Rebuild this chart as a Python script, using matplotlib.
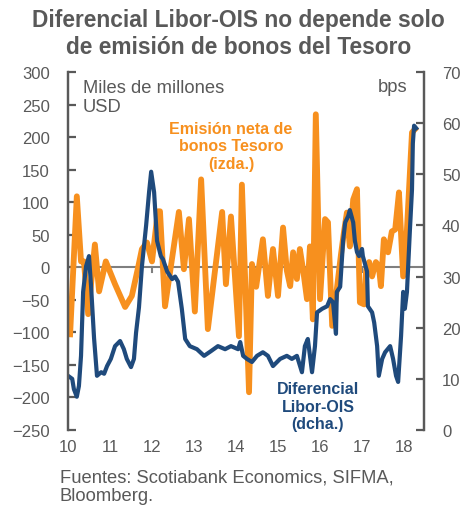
#!/usr/bin/env python3
"""Libor-OIS spread vs net Treasury issuance (Scotiabank style chart)."""

import matplotlib

matplotlib.use("Agg")
import matplotlib.pyplot as plt

# Net Treasury bond issuance, billions USD (left axis)
ISSUE_YEAR = [
    2010.05, 2010.21, 2010.31, 2010.38, 2010.48, 2010.64, 2010.74, 2010.90,
    2011.12, 2011.36, 2011.52, 2011.67, 2011.76, 2011.88, 2012.00, 2012.14,
    2012.19, 2012.31, 2012.64, 2012.76, 2012.88, 2013.02, 2013.17, 2013.33,
    2013.67, 2013.76, 2013.88, 2014.07, 2014.14, 2014.31, 2014.38, 2014.48,
    2014.64, 2014.76, 2014.83, 2014.88, 2015.00, 2015.12, 2015.21, 2015.29,
    2015.36, 2015.45, 2015.52, 2015.60, 2015.69, 2015.76, 2015.83, 2015.90,
    2016.00, 2016.12, 2016.19, 2016.29, 2016.40, 2016.50, 2016.57, 2016.64,
    2016.71, 2016.79, 2016.88, 2016.95, 2017.05, 2017.10, 2017.17, 2017.24,
    2017.33, 2017.40, 2017.45, 2017.52, 2017.62, 2017.71, 2017.79, 2017.88,
    2017.98, 2018.07, 2018.19, 2018.26,
]
ISSUE_VAL = [
    -103, 109, 9, 9, -72, 35, -37, 9,
    -26, -61, -44, 0, 28, 38, 9, 86,
    86, -60, 85, -3, 74, -68, 135, -95,
    85, -26, 78, -106, 127, -192, 5, -30,
    43, -44, 0, 28, -44, 61, -5, -29,
    23, -18, 28, -5, -49, 32, -80, 235,
    -49, 74, 69, -90, -34, 20, 54, 84,
    32, 104, 120, -54, -57, -3, 8, -14,
    8, 2, -29, 43, 23, 55, 58, 115,
    -14, 58, 207, 212,
]

# Libor-OIS spread, bps (right axis)
SPREAD_YEAR = [
    2010.00, 2010.10, 2010.14, 2010.21, 2010.26, 2010.31, 2010.36, 2010.43,
    2010.50, 2010.55, 2010.62, 2010.69, 2010.79, 2010.86, 2010.93, 2011.02,
    2011.12, 2011.24, 2011.33, 2011.40, 2011.50, 2011.57, 2011.62, 2011.69,
    2011.76, 2011.86, 2011.93, 2011.98, 2012.05, 2012.12, 2012.21, 2012.26,
    2012.36, 2012.48, 2012.55, 2012.62, 2012.71, 2012.79, 2012.90, 2013.07,
    2013.24, 2013.40, 2013.57, 2013.74, 2013.88, 2014.05, 2014.10, 2014.17,
    2014.26, 2014.38, 2014.50, 2014.64, 2014.76, 2014.88, 2015.05, 2015.21,
    2015.33, 2015.45, 2015.57, 2015.64, 2015.71, 2015.81, 2015.88, 2015.93,
    2016.05, 2016.17, 2016.24, 2016.31, 2016.38, 2016.40, 2016.48, 2016.55,
    2016.60, 2016.67, 2016.71, 2016.79, 2016.83, 2016.88, 2016.93, 2017.00,
    2017.02, 2017.12, 2017.14, 2017.24, 2017.29, 2017.36, 2017.40, 2017.48,
    2017.55, 2017.67, 2017.74, 2017.81, 2017.86, 2017.93, 2017.98, 2018.02,
    2018.07, 2018.14, 2018.19, 2018.21, 2018.24, 2018.29,
]
SPREAD_VAL = [
    10.6, 10.0, 8.0, 6.5, 8.6, 14.5, 27, 32,
    34, 28, 18, 10.6, 11.3, 11.0, 12.5, 13.9,
    16.4, 17.4, 15.8, 13.9, 12.3, 13.9, 19, 24,
    32, 40, 46.5, 50.5, 46.5, 37, 34, 33.4,
    31, 29.5, 30, 29, 23.7, 17.8, 16.4, 15.8,
    14.5, 15.4, 16.4, 15.8, 16.4, 15.8, 17.2, 14.5,
    13.9, 13.3, 14.5, 15.2, 14.5, 12.5, 13.9, 14.5,
    13.9, 14.5, 11.3, 16.4, 17.8, 11.3, 16.4, 23,
    23.7, 24.2, 25.6, 25, 18.8, 27, 28, 37,
    40.6, 41.8, 43, 40.6, 37, 34.8, 34, 35.4,
    34, 31, 24.2, 23, 21, 16.4, 10.6, 13.9,
    15.2, 16.4, 13.9, 10.6, 9.4, 18.4, 27, 23.7,
    27, 39, 47, 56, 59.5, 59,
]

YEAR_TICKS = [2010, 2011, 2012, 2013, 2014, 2015, 2016, 2017, 2018]
YEAR_LABELS = ["10", "11", "12", "13", "14", "15", "16", "17", "18"]

ORANGE = "#F7901E"
NAVY = "#1F4A7C"
GRAY = "#595959"

plt.rcParams["font.family"] = ["Liberation Sans", "DejaVu Sans"]

W, H = 477, 510
fig = plt.figure(figsize=(W / 100, H / 100), dpi=100)
ax = fig.add_axes([68 / W, 1 - 431 / H, (424 - 68) / W, (431 - 73) / H])
ax2 = ax.twinx()

ax.axhline(0, color="#7F7F7F", linewidth=1.5, zorder=1)
ax.plot(ISSUE_YEAR, ISSUE_VAL, color=ORANGE, linewidth=4.2, zorder=2,
        solid_joinstyle="round")
ax2.plot(SPREAD_YEAR, SPREAD_VAL, color=NAVY, linewidth=3.0,
         solid_joinstyle="round")

ax.set_xlim(2010.0, 2018.476)
ax.set_ylim(-250, 300)
ax2.set_ylim(0, 70)
ax.set_yticks(range(-250, 301, 50))
ax2.set_yticks(range(0, 71, 10))

for a in (ax, ax2):
    a.spines["top"].set_visible(False)
    a.spines["bottom"].set_visible(False)
    for side in ("left", "right"):
        a.spines[side].set_color(GRAY)
        a.spines[side].set_linewidth(1.6)
    a.tick_params(axis="y", direction="in", length=6, width=1.6, color=GRAY,
                  labelcolor=GRAY, labelsize=12, pad=13)

# year ticks sit on the zero line, labels at the bottom
ax.set_xticks(YEAR_TICKS)
ax.tick_params(axis="x", length=0, labelbottom=False)
for yr, lab in zip(YEAR_TICKS, YEAR_LABELS):
    ax.plot([yr, yr], [0, -7], color="#7F7F7F", linewidth=1.5, zorder=1)
    ax.text(yr, -0.045, lab, transform=ax.get_xaxis_transform(), ha="center",
            va="center", color=GRAY, fontsize=12)

fig.text(0.5, 1 - 20 / H, "Diferencial Libor-OIS no depende solo",
         ha="center", va="center", fontsize=16.4, fontweight="bold", color=GRAY)
fig.text(0.5, 1 - 47 / H, "de emisión de bonos del Tesoro",
         ha="center", va="center", fontsize=16.4, fontweight="bold", color=GRAY)

fig.text(83 / W, 1 - 98 / H, "Miles de millones\nUSD", ha="left", va="center",
         fontsize=13.2, color=GRAY, linespacing=1.15)
fig.text(407 / W, 1 - 88 / H, "bps", ha="right", va="center",
         fontsize=13.2, color=GRAY)

fig.text(231 / W, 1 - 147 / H, "Emisión neta de\nbonos Tesoro\n(izda.)",
         ha="center", va="center", fontsize=11.5, fontweight="bold",
         color=ORANGE, linespacing=1.2)
fig.text(318 / W, 1 - 407 / H, "Diferencial\nLibor-OIS\n(dcha.)",
         ha="center", va="center", fontsize=11.5, fontweight="bold",
         color=NAVY, linespacing=1.2)

fig.text(60 / W, 1 - 487 / H, "Fuentes: Scotiabank Economics, SIFMA,\nBloomberg.",
         ha="left", va="center", fontsize=13.2, color=GRAY, linespacing=1.1)

fig.savefig("out.png", dpi=100)
plt.close(fig)
